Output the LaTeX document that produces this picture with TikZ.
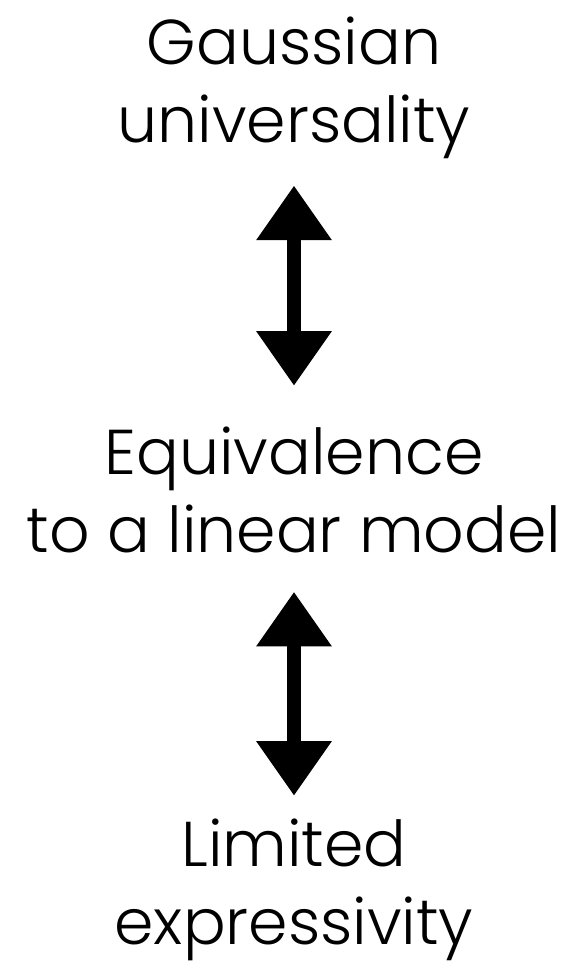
\documentclass[tikz,border=0pt]{standalone}
\usepackage{fontspec}
\setmainfont{Poppins}[UprightFont=* Light]
\usetikzlibrary{arrows.meta,positioning}

\begin{document}
\begin{tikzpicture}[
  x=0.75pt,y=0.75pt,
  claim/.style={align=center,inner sep=0pt,anchor=base,
                font=\fontsize{47.5}{58.5}\selectfont,text=black},
  dblarrow/.style={{Triangle[width=54pt,length=41pt]}-{Triangle[width=54pt,length=41pt]},
                   line width=10pt,black},
]
  \useasboundingbox (0,0) rectangle (571,969);

  \node[claim] (gauss) at (294,826) {Gaussian\\universality};
  \node[claim] (equiv) at (294,416) {Equivalence\\to a linear model};
  \node[claim] (limit) at (294,24) {Limited\\expressivity};

  \draw[dblarrow,shorten <=19.5pt,shorten >=31pt] (gauss.south) -- (equiv.north);
  \draw[dblarrow,shorten <=28.5pt,shorten >=17.5pt] (equiv.south) -- (limit.north);
\end{tikzpicture}
\end{document}
